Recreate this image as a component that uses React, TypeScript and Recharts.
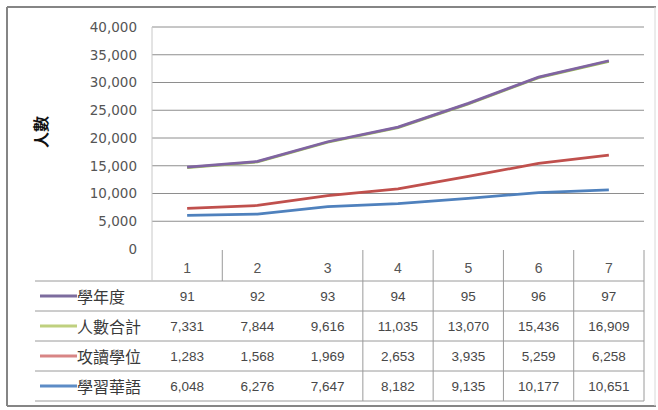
import React from 'react';
import { AreaChart, Area, XAxis, YAxis, CartesianGrid } from 'recharts';

const categories = ['1', '2', '3', '4', '5', '6', '7'];
const yearValues = [91, 92, 93, 94, 95, 96, 97];
const totalValues = [7331, 7844, 9616, 11035, 13070, 15436, 16909];
const degreeValues = [1283, 1568, 1969, 2653, 3935, 5259, 6258];
const mandarinValues = [6048, 6276, 7647, 8182, 9135, 10177, 10651];
const yTicks = [0, 5000, 10000, 15000, 20000, 25000, 30000, 35000, 40000];
const gridValues = [5000, 10000, 15000, 20000, 25000, 30000, 35000, 40000];

const seriesLabels = ['學年度', '人數合計', '攻讀學位', '學習華語'];
const seriesColors = ['#8064A2', '#9BBB59', '#C0504D', '#4F81BD'];
const keyColors = ['#7d6c9e', '#bfd07f', '#d88585', '#5d8cc6'];
const seriesValues = [yearValues, totalValues, degreeValues, mandarinValues];

const data = categories.map((c, i) => ({
  cat: c,
  year: yearValues[i],
  total: totalValues[i],
  degree: degreeValues[i],
  mandarin: mandarinValues[i],
}));

const W = 658;
const H = 410;
const PLOT_LEFT = 152;
const PLOT_RIGHT = 644;
const PLOT_TOP = 27;
const PLOT_BOTTOM = 249;
const COL_W = (PLOT_RIGHT - PLOT_LEFT) / categories.length;
const HEADER_TOP = 250;
const ROW_TOP = 281;
const ROW_H = 30;
const TABLE_LEFT = 35;
const TABLE_BOTTOM = ROW_TOP + ROW_H * 4;

const NUM_FONT = "'Liberation Sans', Arial, sans-serif";
const AXIS_FONT = "'DejaVu Sans', sans-serif";
const CJK_FONT = "'Noto Sans CJK TC', 'Noto Sans CJK SC', sans-serif";
const LINE_COL = '#9a9a9a';

const fmt = (v: number, r: number) => (r === 0 ? String(v) : v.toLocaleString('en-US'));

const TableTick = (props: any) => {
  const { x, index, payload } = props;
  const half = COL_W / 2;
  return (
    <g>
      <text
        x={x}
        y={268}
        textAnchor="middle"
        dominantBaseline="central"
        fontFamily={NUM_FONT}
        fontSize={14}
        fill="#555"
      >
        {payload.value}
      </text>
      {seriesValues.map((vals, r) => (
        <text
          key={r}
          x={x}
          y={ROW_TOP + ROW_H * (r + 0.5)}
          textAnchor="middle"
          dominantBaseline="central"
          fontFamily={NUM_FONT}
          fontSize={13.5}
          fill="#484848"
        >
          {fmt(vals[index], r)}
        </text>
      ))}
      {index === 0 && (
        <>
          <line x1={x - half} x2={x - half} y1={PLOT_BOTTOM} y2={ROW_TOP} stroke="#c8c8c8" />
          <line x1={x + half} x2={x + half} y1={HEADER_TOP} y2={ROW_TOP} stroke={LINE_COL} />
        </>
      )}
      {index >= 2 && (
        <line x1={x + half} x2={x + half} y1={HEADER_TOP} y2={TABLE_BOTTOM} stroke={LINE_COL} />
      )}
    </g>
  );
};

export default function App() {
  return (
    <div style={{ position: 'absolute', left: 0, top: 0, width: W, height: H, background: '#fff' }}>
      <svg width={W} height={H} style={{ position: 'absolute', left: 0, top: 0 }}>
        <line x1={7} x2={656} y1={7} y2={7} stroke="#858585" strokeWidth={2} />
        <line x1={7} x2={7} y1={7} y2={406} stroke="#858585" strokeWidth={2} />
        <line x1={7} x2={656} y1={406} y2={406} stroke="#858585" strokeWidth={2} />
        <line x1={655} x2={655} y1={7} y2={406} stroke="#d8d8d8" strokeWidth={1} />
        {[0, 1, 2, 3, 4].map((k) => (
          <line
            key={k}
            x1={TABLE_LEFT}
            x2={PLOT_RIGHT}
            y1={ROW_TOP + ROW_H * k}
            y2={ROW_TOP + ROW_H * k}
            stroke={LINE_COL}
          />
        ))}
        {seriesLabels.map((lab, r) => (
          <g key={lab}>
            <line
              x1={40}
              x2={77}
              y1={ROW_TOP + ROW_H * (r + 0.5)}
              y2={ROW_TOP + ROW_H * (r + 0.5)}
              stroke={keyColors[r]}
              strokeWidth={3}
            />
            <text
              x={77}
              y={ROW_TOP + ROW_H * (r + 0.5)}
              dominantBaseline="central"
              fontFamily={CJK_FONT}
              fontSize={16}
              fill="#3a3a3a"
            >
              {lab}
            </text>
          </g>
        ))}
        <text
          x={40}
          y={132}
          transform="rotate(-90, 40, 132)"
          textAnchor="middle"
          dominantBaseline="central"
          fontFamily={CJK_FONT}
          fontSize={16}
          fontWeight="bold"
          fill="#111"
        >
          人數
        </text>
      </svg>
      <div style={{ position: 'absolute', left: 0, top: 0 }}>
        <AreaChart
          width={W}
          height={H}
          data={data}
          margin={{ top: PLOT_TOP, right: W - PLOT_RIGHT, bottom: 0, left: 0 }}
        >
          <CartesianGrid
            vertical={false}
            horizontalValues={gridValues}
            stroke="#8e8e8e"
            strokeWidth={1}
          />
          <XAxis
            dataKey="cat"
            height={H - PLOT_BOTTOM}
            padding={{ left: COL_W / 2, right: COL_W / 2 }}
            axisLine={false}
            tickLine={false}
            tickSize={0}
            tickMargin={0}
            interval={0}
            tick={<TableTick />}
          />
          <YAxis
            width={PLOT_LEFT}
            domain={[0, 40000]}
            ticks={yTicks}
            axisLine={{ stroke: '#c8c8c8' }}
            tickLine={false}
            tickSize={0}
            tickMargin={15}
            tickFormatter={(v: number) => v.toLocaleString('en-US')}
            tick={{ fontFamily: AXIS_FONT, fontSize: 13.5, fill: '#555' }}
          />
          <Area
            type="linear"
            dataKey="mandarin"
            stackId="s"
            stroke={seriesColors[3]}
            strokeWidth={2.75}
            fill="none"
            dot={false}
            activeDot={false}
            isAnimationActive={false}
          />
          <Area
            type="linear"
            dataKey="degree"
            stackId="s"
            stroke={seriesColors[2]}
            strokeWidth={2.75}
            fill="none"
            dot={false}
            activeDot={false}
            isAnimationActive={false}
          />
          <Area
            type="linear"
            dataKey="total"
            stackId="s"
            stroke={seriesColors[1]}
            strokeWidth={2.75}
            fill="none"
            dot={false}
            activeDot={false}
            isAnimationActive={false}
          />
          <Area
            type="linear"
            dataKey="year"
            stackId="s"
            stroke={seriesColors[0]}
            strokeWidth={2.75}
            fill="none"
            dot={false}
            activeDot={false}
            isAnimationActive={false}
          />
        </AreaChart>
      </div>
    </div>
  );
}
